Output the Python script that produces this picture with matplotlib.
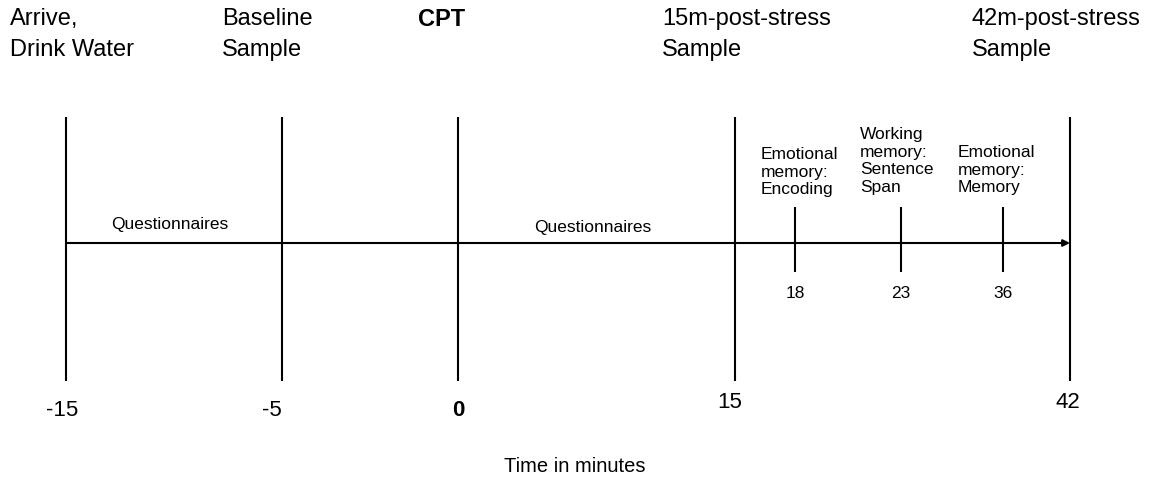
import numpy as np
import matplotlib
matplotlib.use("Agg")
import matplotlib.pyplot as plt

plt.rcParams['font.family'] = ['Liberation Sans', 'DejaVu Sans']

# ---- data ----
major_times = [-15, -5, 0, 15, 42]
major_tick_labels = ['-15', '-5', '0', '15', '42']
event_labels = ['Arrive,\nDrink Water', 'Baseline\nSample', 'CPT',
                '15m-post-stress\nSample', '42m-post-stress\nSample']
minor_times = [18, 23, 36]
minor_tick_labels = ['18', '23', '36']
task_labels = ['Emotional\nmemory:\nEncoding', 'Working\nmemory:\nSentence\nSpan',
               'Emotional\nmemory:\nMemory']
questionnaire_spans = [(-15, -5), (0, 15)]
timeline_start, timeline_end = -15, 42

# ---- non-linear drawing scale (as in the original schematic) ----
_T = np.array([-18.06, -15, -5, 0, 15, 18, 23, 36, 42, 48.6])
_P = np.array([0, 66, 282, 458, 735, 795, 901, 1003, 1070, 1152])
def fwd(t):
    return np.interp(t, _T, _P)
def inv(p):
    return np.interp(p, _P, _T)

fig = plt.figure(figsize=(11.52, 4.79), dpi=100)
ax = fig.add_axes([0, 0, 1, 1])
ax.set_xscale('function', functions=(fwd, inv))
ax.set_xlim(_T[0], _T[-1])
ax.set_ylim(479, 0)
ax.axis('off')

lw = 1.5
# major vertical lines
for t in major_times:
    ax.plot([t, t], [117, 381], color='black', lw=lw, solid_capstyle='butt')
# main arrow
ax.annotate('', xy=(timeline_end, 243), xytext=(timeline_start, 243),
            arrowprops=dict(arrowstyle='-|>', color='black', lw=lw,
                            mutation_scale=10, shrinkA=0, shrinkB=0))
# minor ticks
for t in minor_times:
    ax.plot([t, t], [207, 272], color='black', lw=lw, solid_capstyle='butt')

# event labels (top)
ev_offsets = [-56, -60, -40, -73, -98]
for t, lab, off in zip(major_times, event_labels, ev_offsets):
    ax.annotate(lab, xy=(t, 8), xytext=(off, 0), textcoords='offset pixels',
                ha='left', va='top', fontsize=17,
                fontweight='bold' if lab == 'CPT' else 'normal',
                linespacing=1.5)

# bottom tick labels
tick_y = [411, 411, 411, 402, 402]
tick_dx = [-4, -10, 0, -5, -2]
for t, lab, y, dx in zip(major_times, major_tick_labels, tick_y, tick_dx):
    ax.annotate(lab, xy=(t, y), xytext=(dx, 0), textcoords='offset pixels',
                ha='center', va='center', fontsize=16,
                fontweight='bold' if lab == '0' else 'normal')

# minor labels
for t, lab in zip(minor_times, minor_tick_labels):
    ax.annotate(lab, xy=(t, 294), ha='center', va='center', fontsize=12.5)

# task labels
task_tops = [147, 127, 145]
task_dx = [-34, -41, -45]
for t, lab, top, dx in zip(minor_times, task_labels, task_tops, task_dx):
    ax.annotate(lab, xy=(t, top), xytext=(dx, 0), textcoords='offset pixels',
                ha='left', va='top', fontsize=12.5, linespacing=1.22)

# questionnaires
q_y = [224, 227]
for (a, b), y in zip(questionnaire_spans, q_y):
    mid = inv((fwd(a) + fwd(b)) / 2)
    ax.annotate('Questionnaires', xy=(mid, y), xytext=(-4, 0), textcoords='offset pixels',
                ha='center', va='center', fontsize=12.5)

fig.text(575 / 1152, 1 - 466 / 479, 'Time in minutes',
         ha='center', va='center', fontsize=14.5)

fig.savefig('out.png', dpi=100)
